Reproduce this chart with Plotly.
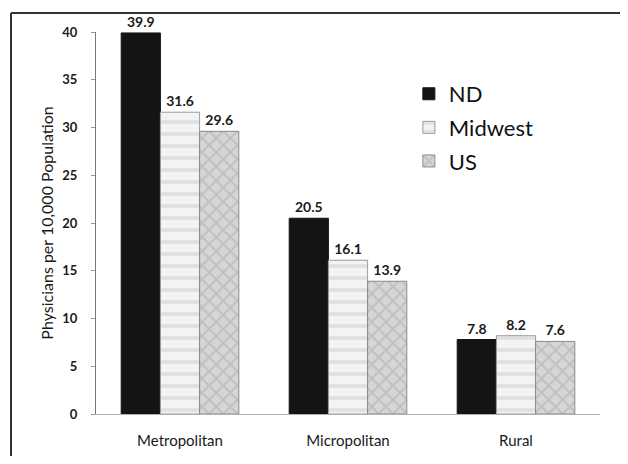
import plotly.graph_objects as go

categories = ["Metropolitan", "Micropolitan", "Rural"]
nd_values = [39.9, 20.5, 7.8]
midwest_values = [31.6, 16.1, 8.2]
us_values = [29.6, 13.9, 7.6]
y_ticks = [0, 5, 10, 15, 20, 25, 30, 35, 40]

FONT = "Lato"
W, H = 612, 448
fig = go.Figure()

def labels(vals):
    return [f"{v:.1f}" for v in vals]

fig.add_trace(go.Bar(
    name="ND", x=categories, y=nd_values, text=labels(nd_values),
    textposition="outside", legendgroup="a",
    marker=dict(color="#141414", line=dict(color="#141414", width=1)),
))
fig.add_trace(go.Bar(
    name="Midwest", x=categories, y=midwest_values, text=labels(midwest_values),
    textposition="outside", legendgroup="b",
    marker=dict(color="#f3f3f3", line=dict(color="#9a9a9a", width=1),
                pattern=dict(shape="-", fgcolor="#cdcdcd", size=12, solidity=0.3)),
))
fig.add_trace(go.Bar(
    name="US", x=categories, y=us_values, text=labels(us_values),
    textposition="outside", legendgroup="c",
    marker=dict(color="#d6d6d6", line=dict(color="#8a8a8a", width=1),
                pattern=dict(shape="x", fgcolor="#a9a9a9", size=10, solidity=0.35)),
))

fig.update_traces(
    textfont=dict(family=FONT, size=14, color="#1a1a1a", weight="bold"),
    cliponaxis=False,
)

# outer border of the scanned figure
fig.add_shape(type="line", xref="paper", yref="paper",
              x0=3 / W, x1=1.0, y0=1 - 5 / H, y1=1 - 5 / H,
              line=dict(color="#333333", width=2), layer="above")
fig.add_shape(type="line", xref="paper", yref="paper",
              x0=3 / W, x1=3 / W, y0=1 - 5 / H, y1=0.0,
              line=dict(color="#333333", width=2), layer="above")

fig.update_layout(
    width=W, height=H,
    margin=dict(l=0, r=0, t=0, b=0, autoexpand=False),
    paper_bgcolor="white", plot_bgcolor="white",
    barmode="group", bargap=0.30, bargroupgap=0.0,
    showlegend=True,
    legend=dict(
        x=0.655, y=0.855, xanchor="left", yanchor="top",
        font=dict(family=FONT, size=22, color="#111111"),
        traceorder="grouped", tracegroupgap=2,
        bgcolor="rgba(0,0,0,0)",
    ),
    xaxis=dict(
        domain=[88 / W, 592 / W],
        range=[-0.5, 2.5], showline=True, linecolor="#b0b0b0", linewidth=1,
        ticks="", tickfont=dict(family=FONT, size=15, color="#1a1a1a"),
        ticklabelstandoff=13, automargin=False,
    ),
    yaxis=dict(
        domain=[1 - 406 / H, 1 - 24 / H],
        range=[0, 40], tickvals=y_ticks, showgrid=False, zeroline=False,
        showline=True, linecolor="#777777", linewidth=1,
        ticks="outside", ticklen=4, tickcolor="#999999",
        tickfont=dict(family=FONT, size=13, color="#1a1a1a", weight="bold"),
        ticklabelstandoff=11, automargin=False,
        title=dict(text="Physicians per 10,000 Population",
                   font=dict(family=FONT, size=16, color="#1a1a1a"), standoff=4),
    ),
)

fig.write_html("out.html")
